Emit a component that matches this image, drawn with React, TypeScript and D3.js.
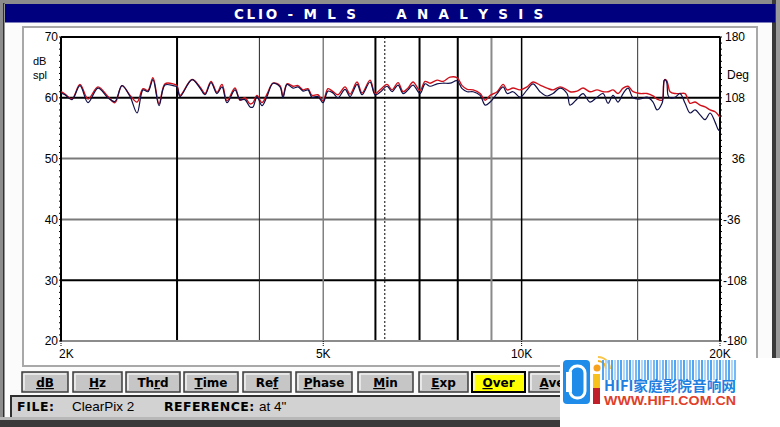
import { useEffect } from 'react'
import * as d3 from 'd3'

// frequency points (Hz) shared by both traces
const freqs = [
  2000, 2028, 2078, 2137, 2198, 2276, 2357, 2415, 2475, 2546,
  2609, 2664, 2710, 2758, 2817, 2876, 2958, 2999, 3031, 3161,
  3250, 3308, 3378, 3449, 3510, 3572, 3673, 3738, 3804, 3871,
  3912, 3967, 4037, 4108, 4195, 4299, 4344, 4406, 4499, 4578,
  4658, 4741, 4807, 4909, 4996, 5084, 5174, 5265, 5395, 5491,
  5627, 5726, 5888, 5992, 6098, 6249, 6359, 6494, 6608, 6725,
  6843, 7013, 7137, 7263, 7443, 7601, 7789, 7982, 8123, 8267,
  8442, 8651, 8804, 8959, 9181, 9376, 9508, 9705, 9946, 10193,
  10407, 10665, 10929, 11160, 11437, 11720, 11844, 12137, 12394, 12701,
  13016, 13291, 13526, 13764, 14007, 14254, 14506, 14761, 15126, 15500,
  15828, 16051, 16334, 16392, 16450, 16507, 16600, 16682, 16799, 17095,
  17396, 17703, 18015, 18333, 18656, 18985, 19320, 19660, 19867, 20000,
]

// current measurement (dark trace), dB spl
const currentDb = [
  60.8, 60.5, 59.7, 62.0, 59.2, 61.6, 60.0, 59.4, 62.0, 60.2,
  57.5, 61.3, 61.0, 63.0, 58.7, 62.1, 62.0, 61.8, 60.2, 63.0,
  61.6, 60.5, 62.5, 60.7, 61.8, 59.2, 61.3, 59.7, 59.7, 58.5,
  58.5, 60.2, 58.7, 60.2, 62.4, 61.8, 60.0, 62.2, 61.6, 61.8,
  61.1, 61.3, 60.1, 60.2, 59.2, 61.1, 60.8, 60.0, 61.4, 60.2,
  62.2, 60.5, 62.6, 60.5, 60.9, 61.9, 61.0, 62.1, 60.7, 61.3,
  62.1, 60.7, 62.3, 61.9, 62.3, 62.4, 62.4, 62.8, 61.5, 61.0,
  61.0, 60.4, 58.8, 59.3, 60.7, 61.8, 60.7, 61.0, 60.1, 61.3,
  62.3, 61.0, 60.3, 60.7, 61.6, 60.7, 58.8, 59.8, 60.7, 59.3,
  60.1, 60.7, 59.1, 60.4, 59.3, 60.7, 61.6, 60.0, 59.8, 60.1,
  59.3, 58.0, 59.1, 60.0, 62.8, 63.0, 62.6, 60.4, 60.0, 60.1,
  60.7, 59.1, 57.5, 58.0, 57.2, 56.4, 57.5, 56.0, 54.8, 54.5,
]

// overlaid reference (red trace), dB spl
const overDb = [
  61.0, 60.6, 59.8, 62.2, 59.8, 61.8, 60.2, 59.2, 62.0, 60.4,
  59.3, 61.5, 61.2, 63.3, 59.0, 62.3, 62.3, 62.0, 60.4, 63.0,
  61.8, 60.7, 62.7, 60.9, 62.2, 59.5, 61.6, 59.6, 60.0, 59.0,
  59.2, 60.4, 59.2, 60.6, 62.4, 62.0, 60.3, 62.3, 61.9, 62.0,
  61.3, 61.5, 60.4, 60.5, 59.5, 61.5, 61.0, 60.5, 61.8, 60.6,
  62.6, 60.8, 62.9, 60.7, 61.3, 62.2, 61.3, 62.5, 61.0, 61.6,
  62.6, 61.2, 62.7, 62.4, 62.9, 62.7, 63.4, 63.3, 62.0, 61.4,
  61.3, 60.7, 59.6, 60.4, 61.0, 62.2, 61.3, 61.6, 61.3, 61.8,
  62.6, 62.1, 61.6, 61.3, 61.8, 61.3, 61.0, 61.1, 61.6, 61.0,
  61.3, 61.0, 61.0, 61.3, 60.7, 61.6, 61.9, 61.0, 60.7, 60.7,
  60.3, 59.8, 59.6, 60.2, 62.8, 63.0, 62.8, 62.1, 61.0, 60.7,
  60.7, 60.7, 59.1, 59.3, 58.8, 58.5, 58.0, 57.7, 57.2, 56.8,
]

const dbTicks = [70, 60, 50, 40, 30, 20]
const degTicks = [180, 108, 36, -36, -108, -180]
const freqLabels: [number, string][] = [[2000, '2K'], [5000, '5K'], [10000, '10K'], [20000, '20K']]
const gridFreqs = [3000, 4000, 5000, 6000, 7000, 8000, 9000, 10000, 15000]
const cursorFreq = 6200
const buttons = ['dB', 'Hz', 'Thrd', 'Time', 'Ref', 'Phase', 'Min', 'Exp', 'Over', 'Ave']
const underlineAt = [-1, 0, 2, 0, 2, 0, 0, 0, 0, 0]

// layout
const W = 780
const H = 427
const plot = { left: 61, right: 720, top: 37, bottom: 341 }
const btnX = [22, 73, 126, 184, 243, 296, 358, 419, 472, 529]
const btnW = [46, 49, 54, 54, 48, 56, 55, 49, 53, 46]

// grid styling (thick black vs grey lines, as on the CLIO screen)
const vStyle: Record<number, [string, number]> = {
  3000: ['#000', 2], 4000: ['#222', 1], 5000: ['#808080', 1.5], 6000: ['#000', 2],
  7000: ['#000', 2], 8000: ['#000', 2], 9000: ['#8a8a8a', 2], 10000: ['#000', 1.5], 15000: ['#333', 1],
}
const hStyle: Record<number, [string, number]> = {
  60: ['#000', 2], 50: ['#7a7a7a', 2], 40: ['#7a7a7a', 2], 30: ['#000', 2],
}

export default function App() {
  useEffect(() => {
    document.body.style.margin = '0'
  }, [])

  const x = d3.scaleLog().domain([2000, 20000]).range([plot.left, plot.right])
  const y = d3.scaleLinear().domain([20, 70]).range([plot.bottom, plot.top])
  const yDeg = d3.scaleLinear().domain([-180, 180]).range([plot.bottom, plot.top])

  const line = d3.line<[number, number]>()
    .x(d => x(d[0]))
    .y(d => y(d[1]))
    .curve(d3.curveCatmullRom.alpha(0.5))

  const curPts = freqs.map((f, i) => [f, currentDb[i]] as [number, number])
  const overPts = freqs.map((f, i) => [f, overDb[i]] as [number, number])

  const minor = d3.range(20, 70.01, 1)
  const uiFont = 'DejaVu Sans, Verdana, sans-serif'
  const numFont = 'Liberation Sans, Arial, sans-serif'

  return (
    <svg width={W} height={H} style={{ display: 'block', position: 'absolute', left: 0, top: 0 }}>
      {/* window frame */}
      <rect x={0} y={0} width={W} height={H} fill="#fbfbfb" />
      <rect x={0} y={0} width={W} height={4} fill="#8c8c8c" />
      <rect x={0} y={0} width={3} height={H} fill="#8c8c8c" />
      <rect x={3} y={3} width={1.5} height={H - 3} fill="#303030" />
      <rect x={772} y={0} width={4} height={H} fill="#3a3a3a" />
      <rect x={776} y={0} width={4} height={H} fill="#9a9a9a" />
      <rect x={5} y={4} width={770} height={18.5} fill="#00007e" />
      <text x={390} y={18.5} textAnchor="middle" fill="#fff" fontFamily={uiFont}
        fontWeight="bold" fontSize={13.5} letterSpacing={2.8} style={{ whiteSpace: 'pre' }}>
        {'CLIO - M L S     A N A L Y S I S'}
      </text>

      {/* plot panel */}
      <rect x={23} y={27} width={734} height={339} fill="#fff" stroke="#a8a8a8" strokeWidth={2} />

      {/* horizontal grid */}
      {dbTicks.filter(v => hStyle[v]).map(v => (
        <line key={'h' + v} x1={plot.left} x2={plot.right} y1={y(v)} y2={y(v)}
          stroke={hStyle[v][0]} strokeWidth={hStyle[v][1]} />
      ))}
      {/* vertical grid */}
      {gridFreqs.map(f => (
        <line key={'v' + f} x1={x(f)} x2={x(f)} y1={plot.top} y2={plot.bottom}
          stroke={vStyle[f][0]} strokeWidth={vStyle[f][1]} />
      ))}
      <line x1={x(cursorFreq)} x2={x(cursorFreq)} y1={plot.top} y2={plot.bottom}
        stroke="#000" strokeWidth={1} strokeDasharray="2,2" />

      {/* frame */}
      <line x1={plot.left} x2={plot.right} y1={plot.top} y2={plot.top} stroke="#000" strokeWidth={2} />
      <line x1={plot.left} x2={plot.right} y1={plot.bottom} y2={plot.bottom} stroke="#8c8c8c" strokeWidth={2} />
      <line x1={plot.left} x2={plot.left} y1={plot.top} y2={plot.bottom} stroke="#000" strokeWidth={2} />
      <line x1={plot.right} x2={plot.right} y1={plot.top} y2={plot.bottom} stroke="#000" strokeWidth={2} />

      {/* minor ticks */}
      {minor.map(v => (
        <g key={'m' + v}>
          <line x1={plot.left - 2} x2={plot.left} y1={y(v)} y2={y(v)} stroke="#000" strokeWidth={1} />
          <line x1={plot.right} x2={plot.right + 2} y1={y(v)} y2={y(v)} stroke="#000" strokeWidth={1} />
        </g>
      ))}

      {/* traces */}
      <path d={line(overPts) ?? ''} fill="none" stroke="#d0101a" strokeWidth={1.4} />
      <path d={line(curPts) ?? ''} fill="none" stroke="#10104a" strokeWidth={1.2} />

      {/* left axis */}
      {dbTicks.map(v => (
        <text key={'l' + v} x={plot.left - 3} y={y(v)} dy="0.36em" textAnchor="end"
          fontFamily={numFont} fontSize={12} fill="#000">{v}</text>
      ))}
      <text x={33} y={65} fontFamily={numFont} fontSize={11}>dB</text>
      <text x={33} y={79} fontFamily={numFont} fontSize={11}>spl</text>

      {/* right axis */}
      {degTicks.map(v => (
        <text key={'r' + v} x={v < 0 ? plot.right + 3 : plot.right + 25} y={yDeg(v)} dy="0.36em"
          textAnchor={v < 0 ? 'start' : 'end'} fontFamily={numFont} fontSize={12} fill="#000">{v}</text>
      ))}
      <text x={727} y={79} fontFamily={numFont} fontSize={12}>Deg</text>

      {/* bottom axis */}
      {freqLabels.map(([f, t]) => (
        <g key={'b' + f}>
          <line x1={x(f)} x2={x(f)} y1={plot.bottom} y2={plot.bottom + 5} stroke="#000" strokeWidth={1} strokeDasharray="1,1" />
          <text x={f === 2000 ? x(f) - 2 : x(f)} y={358} textAnchor={f === 2000 ? 'start' : 'middle'}
            fontFamily={numFont} fontSize={12} fill="#000">{t}</text>
        </g>
      ))}

      {/* buttons */}
      {buttons.map((b, i) => {
        const on = b === 'Over'
        const bx = btnX[i]
        const bw = btnW[i]
        return (
          <g key={b}>
            <rect x={bx} y={372} width={bw} height={20} fill={on ? '#ffff00' : '#c6c6c6'}
              stroke={on ? '#000' : '#3c3c3c'} strokeWidth={on ? 2 : 1.5} />
            <line x1={bx + 2} x2={bx + bw - 2} y1={374} y2={374} stroke="#f2f2f2" strokeWidth={1.5} />
            <line x1={bx + 2} x2={bx + 2} y1={374} y2={390} stroke="#f2f2f2" strokeWidth={1.5} />
            <text x={bx + bw / 2} y={387} textAnchor="middle" fontFamily={uiFont} fontWeight="bold"
              fontSize={12} fill="#000" style={{ whiteSpace: 'pre' }}>
              {b.split('').map((c, k) => (
                <tspan key={k} style={{ textDecoration: underlineAt[i] === k || underlineAt[i] < 0 ? 'underline' : 'none' }}>{c}</tspan>
              ))}
            </text>
          </g>
        )
      })}

      {/* status bar */}
      <rect x={10} y={395} width={760} height={22} fill="#d2d2d2" />
      <line x1={10} x2={770} y1={396} y2={396} stroke="#303030" strokeWidth={2} />
      <line x1={11} x2={11} y1={395} y2={417} stroke="#303030" strokeWidth={2} />
      <text x={17} y={411} fontFamily={uiFont} fontWeight="bold" fontSize={12.5} letterSpacing={0.6}>FILE:</text>
      <text x={72} y={411} fontFamily={numFont} fontSize={13.5}>ClearPix 2</text>
      <text x={164} y={411} fontFamily={uiFont} fontWeight="bold" fontSize={12.5} letterSpacing={0.4}>REFERENCE:</text>
      <text x={259} y={411} fontFamily={numFont} fontSize={13.5}>at 4"</text>
      <rect x={0} y={417} width={W} height={3} fill="#b8b8b8" />
      <rect x={0} y={420} width={W} height={7} fill="#3a3a3a" />

      {/* watermark block */}
      <rect x={560} y={358} width={220} height={69} fill="#fff" />
      <rect x={563} y={360} width={27} height={44} rx={4} fill="#1e8ce8" />
      <rect x={570} y={366} width={15} height={32} rx={7} fill="none" stroke="#fff" strokeWidth={3} />
      <rect x={566} y={372} width={6} height={20} fill="#fff" />
      <circle cx={597} cy={368} r={3.5} fill="#f6a21e" />
      <path d="M 598 361 A 8 8 0 0 1 606 369" fill="none" stroke="#f6b21e" strokeWidth={2} />
      <path d="M 598 357 A 12 12 0 0 1 610 369" fill="none" stroke="#f8c64a" strokeWidth={2} />
      <rect x={593} y={374} width={7} height={14} fill="#f7c21e" />
      <rect x={593} y={388} width={7} height={16} fill="#c0202a" />
      {d3.range(0, 45).map(k => (
        <rect key={'s' + k} x={602 + k * 3} y={360} width={2} height={20}
          fill={k % 3 === 0 ? '#3f9bf0' : k % 3 === 1 ? '#a9d3fb' : '#66b1f5'} opacity={0.9} />
      ))}
      <text x={604} y={391} fontFamily="Noto Sans CJK SC, sans-serif" fontWeight="bold" fontSize={14}
        fill="#1e7fe0" textLength={132} lengthAdjust="spacingAndGlyphs">HIFI家庭影院音响网</text>
      <text x={604} y={405} fontFamily={numFont} fontWeight="bold" fontSize={12}
        fill="#e0402a" textLength={132} lengthAdjust="spacingAndGlyphs">WWW.HIFI.COM.CN</text>
    </svg>
  )
}
